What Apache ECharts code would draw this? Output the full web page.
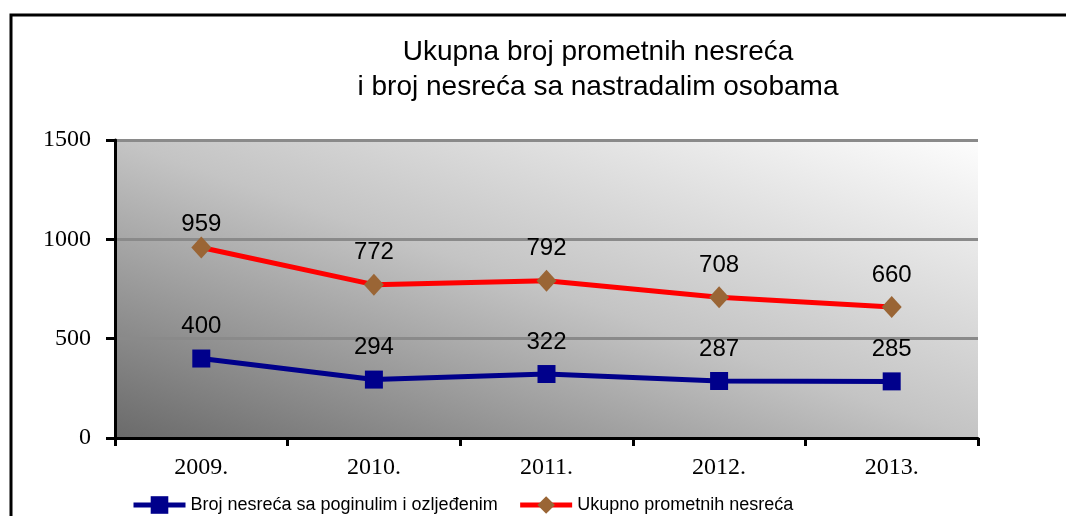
<!DOCTYPE html>
<html>
<head>
<meta charset="utf-8">
<script src="https://cdn.jsdelivr.net/npm/echarts@6/dist/echarts.min.js"></script>
<style>
  html, body { margin: 0; padding: 0; background: #fff; }
  #main { width: 1066px; height: 516px; }
</style>
</head>
<body>
<div id="main"></div>
<script>
// podaci
var years = ['2009.', '2010.', '2011.', '2012.', '2013.'];
var poginuli = [400, 294, 322, 287, 285];
var ukupno = [959, 772, 792, 708, 660];
var yTicks = [0, 500, 1000, 1500];

var myChart = echarts.init(document.getElementById('main'));

function lbl(dist) {
  return {
    show: true,
    position: 'top',
    distance: dist,
    fontFamily: 'Liberation Sans',
    fontSize: 24,
    color: '#000'
  };
}

// prva točka crvene serije ima natpis bliže oznaci
var ukupnoData = ukupno.map(function (v, i) {
  return i === 0 ? { value: v, label: { distance: 0 } } : v;
});

myChart.setOption({
  animation: false,
  title: {
    text: 'Ukupna broj prometnih nesreća\ni broj nesreća sa nastradalim osobama',
    left: 593,
    textAlign: 'center',
    top: 30,
    textStyle: {
      fontFamily: 'Liberation Sans',
      fontWeight: 'normal',
      fontSize: 28,
      lineHeight: 35,
      color: '#000'
    }
  },
  graphic: [{
    type: 'polyline',
    shape: { points: [[11, 516], [11, 15], [1066, 15]] },
    style: { stroke: '#000', lineWidth: 3, fill: null }
  }],
  legend: {
    left: 126,
    top: 491,
    itemGap: 20,
    itemWidth: 52,
    itemHeight: 22,
    lineStyle: { width: 5 },
    textStyle: { fontFamily: 'Liberation Sans', fontSize: 18, color: '#000' },
    data: ['Broj nesreća sa poginulim i ozljeđenim', 'Ukupno prometnih nesreća']
  },
  grid: {
    left: 115,
    right: 88,
    top: 140,
    bottom: 78,
    show: true,
    borderWidth: 0,
    backgroundColor: new echarts.graphic.LinearGradient(0.3935, 1.393, 0.6065, -0.393, [
      { offset: 0, color: '#6a6a6a' },
      { offset: 0.5, color: '#c4c4c4' },
      { offset: 1, color: '#fdfdfd' }
    ])
  },
  xAxis: {
    type: 'category',
    data: years,
    boundaryGap: true,
    axisLine: { lineStyle: { color: '#000', width: 3 } },
    axisTick: { show: true, length: 8, lineStyle: { color: '#000', width: 3 } },
    axisLabel: {
      fontFamily: 'Liberation Serif',
      fontSize: 24,
      color: '#000',
      margin: 18
    }
  },
  yAxis: {
    type: 'value',
    min: yTicks[0],
    max: yTicks[yTicks.length - 1],
    interval: 500,
    axisLine: { show: true, lineStyle: { color: '#000', width: 3 } },
    axisTick: { show: true, length: 9, lineStyle: { color: '#000', width: 3 } },
    splitLine: { lineStyle: { color: '#8a8a8a', width: 3 } },
    axisLabel: {
      fontFamily: 'Liberation Serif',
      fontSize: 24,
      color: '#000',
      margin: 24,
      formatter: function (v) { return String(v); }
    }
  },
  series: [{
    name: 'Broj nesreća sa poginulim i ozljeđenim',
    type: 'line',
    data: poginuli,
    symbol: 'rect',
    symbolSize: 18,
    itemStyle: { color: '#00008b' },
    lineStyle: { color: '#00008b', width: 5 },
    label: lbl(11)
  }, {
    name: 'Ukupno prometnih nesreća',
    type: 'line',
    data: ukupnoData,
    symbol: 'diamond',
    symbolSize: [20, 22],
    itemStyle: { color: '#9a6535' },
    lineStyle: { color: '#ff0000', width: 5 },
    label: lbl(9)
  }]
});
</script>
</body>
</html>
